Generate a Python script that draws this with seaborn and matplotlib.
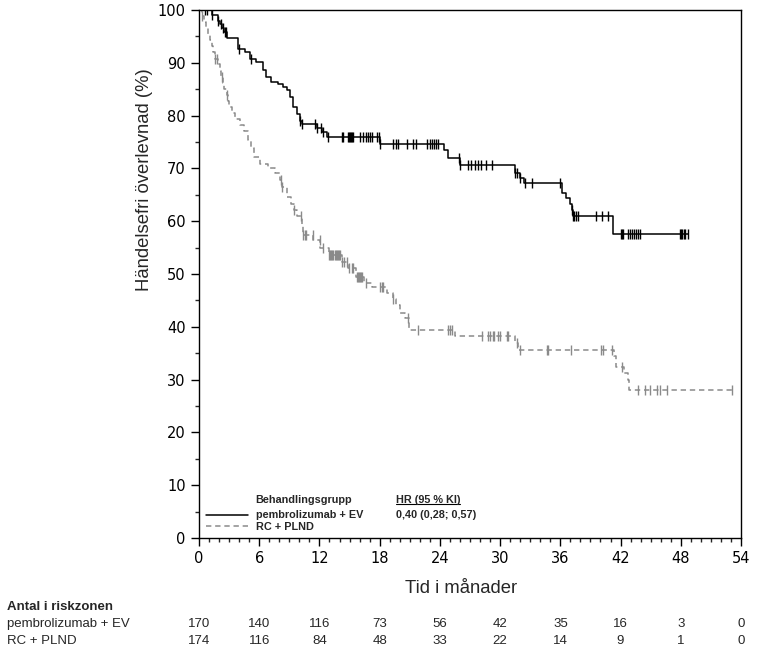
import numpy as np
import pandas as pd
import seaborn as sns
import matplotlib.pyplot as plt
from matplotlib.ticker import MultipleLocator
from matplotlib.transforms import blended_transform_factory

# pembrolizumab + EV: händelsetider (månader) och överlevnad (%) efter steget
pem_t = [1.3, 1.9, 2.1, 2.3, 2.5, 2.8, 3.9, 4.6, 5.1, 5.7, 6.4, 6.7, 7.2, 7.9, 8.4, 8.8,
         9.1, 9.4, 9.8, 10.1, 10.3, 11.8, 12.3, 12.8, 18.0, 24.4, 24.8, 26.0, 31.5, 32.0,
         32.4, 36.2, 36.6, 37.0, 37.2, 37.3, 41.2]
pem_s = [99.1, 98.0, 97.3, 96.5, 95.8, 94.7, 92.7, 92.1, 90.8, 90.2, 88.6, 87.4, 86.4, 85.9,
         85.4, 84.8, 83.6, 81.7, 80.3, 78.9, 78.4, 77.6, 76.8, 76.0, 74.7, 73.4, 72.0, 70.6,
         69.1, 68.2, 67.2, 65.3, 64.4, 63.3, 62.1, 61.0, 57.6]
pem_cens = [0.6, 0.8, 1.3, 1.9, 2.2, 2.4, 2.6, 2.7, 4.0, 5.2, 10.1, 10.3, 11.6, 11.8, 12.2,
            12.4, 12.9, 14.2, 14.3, 14.8, 14.9, 15.0, 15.1, 15.2, 15.3, 16.0, 16.3, 16.6,
            16.8, 17.0, 17.2, 17.7, 17.9, 18.0, 19.3, 19.6, 19.8, 20.7, 21.3, 21.6, 22.7,
            23.0, 23.2, 23.4, 23.6, 23.8, 25.9, 26.0, 26.8, 27.1, 27.5, 27.8, 28.1, 28.6,
            29.2, 31.5, 31.7, 32.0, 32.5, 33.2, 36.0, 37.2, 37.3, 37.4, 37.6, 37.8, 39.6,
            40.2, 40.7, 42.0, 42.1, 42.2, 42.7, 42.9, 43.1, 43.3, 43.5, 43.7, 43.9, 47.9,
            48.0, 48.1, 48.3, 48.4, 48.7]

# RC + PLND
rc_t = [0.3, 0.5, 0.7, 0.9, 1.1, 1.3, 1.4, 1.6, 1.9, 2.1, 2.2, 2.35, 2.5, 2.75, 2.85, 3.0,
        3.25, 3.6, 4.1, 4.5, 4.9, 5.2, 5.5, 6.1, 6.9, 7.6, 8.1, 8.3, 8.8, 9.2, 9.5, 9.8,
        10.3, 10.4, 11.4, 12.1, 13.0, 14.2, 14.8, 15.6, 16.4, 17.2, 18.7, 19.3, 19.6, 20.0,
        20.5, 20.9, 25.5, 31.5, 31.8, 41.3, 41.5, 42.3, 42.7, 42.8]
rc_s = [98.9, 97.7, 96.6, 95.4, 94.3, 93.1, 92.0, 90.8, 89.7, 88.5, 87.4, 86.2, 85.1, 83.9,
        82.8, 81.6, 80.5, 79.3, 78.2, 77.0, 75.3, 73.8, 72.2, 70.9, 70.0, 69.1, 67.8, 66.5,
        64.6, 63.3, 62.1, 60.9, 59.3, 57.4, 56.4, 54.9, 53.6, 52.3, 51.1, 49.5, 48.3, 47.6,
        46.4, 45.2, 44.1, 42.6, 41.7, 39.4, 38.3, 37.0, 35.7, 34.5, 32.4, 31.2, 29.9, 28.0]
rc_cens = [0.3, 1.6, 1.8, 2.3, 2.75, 8.2, 8.3, 9.5, 10.2, 10.4, 10.6, 10.7, 11.35, 12.05,
           12.35, 13.0, 13.1, 13.2, 13.3, 13.4, 13.5, 13.6, 13.7, 13.8, 13.9, 14.0, 14.2,
           14.4, 14.7, 14.9, 15.2, 15.3, 15.7, 15.8, 15.9, 16.0, 16.1, 16.2, 16.6, 18.0,
           18.2, 18.3, 19.3, 20.8, 21.8, 24.8, 25.0, 25.2, 28.2, 28.8, 29.0, 29.25, 29.4,
           29.8, 30.0, 30.65, 30.8, 31.7, 32.0, 34.7, 34.8, 37.1, 40.1, 40.3, 41.1, 42.1,
           43.75, 44.4, 44.9, 45.6, 45.9, 46.6, 53.1]

risk_times = [0, 6, 12, 18, 24, 30, 36, 42, 48, 54]
risk_pem = [170, 140, 116, 73, 56, 42, 35, 16, 3, 0]
risk_rc = [174, 116, 84, 48, 33, 22, 14, 9, 1, 0]

groups = ["pembrolizumab + EV", "RC + PLND"]
hr_text = "0,40 (0,28; 0,57)"

narrow = "Liberation Sans"


def curve(t, s, cens):
    tt = [0] + t + [max(cens)]
    ss = [100] + s + [s[-1]]
    return pd.DataFrame({"tid": tt, "surv": ss})


def censor_points(t, s, cens):
    idx = np.searchsorted(t, cens, side="right")
    return pd.DataFrame({"tid": cens, "surv": np.r_[100, s][idx]})


sns.set_style("ticks")
fig = plt.figure(figsize=(7.81, 6.69), dpi=100)
ax = fig.add_axes([199 / 781, 1 - 538 / 669, 542 / 781, 528 / 669])

pem_df = curve(pem_t, pem_s, pem_cens)
rc_df = curve(rc_t, rc_s, rc_cens)
sns.lineplot(data=pem_df, x="tid", y="surv", drawstyle="steps-post", estimator=None,
             color="black", lw=1.1, ax=ax)
sns.lineplot(data=rc_df, x="tid", y="surv", drawstyle="steps-post", estimator=None,
             color="#8a8a8a", lw=1.1, linestyle=(0, (3.5, 2.5)), ax=ax)
sns.scatterplot(data=censor_points(pem_t, pem_s, pem_cens), x="tid", y="surv", marker="|",
                s=60, color="black", linewidth=1.0, ax=ax, zorder=3)
sns.scatterplot(data=censor_points(rc_t, rc_s, rc_cens), x="tid", y="surv", marker="|",
                s=60, color="#8a8a8a", linewidth=1.0, ax=ax, zorder=3)

ax.set_xlim(0, 54)
ax.set_ylim(0, 100)
ax.xaxis.set_major_locator(MultipleLocator(6))
ax.xaxis.set_minor_locator(MultipleLocator(1))
ax.yaxis.set_major_locator(MultipleLocator(10))
ax.yaxis.set_minor_locator(MultipleLocator(5))
ax.tick_params(which="major", length=6, width=1, labelsize=10.5, colors="black")
ax.tick_params(which="minor", length=3, width=1)
for sp in ax.spines.values():
    sp.set_visible(True)
    sp.set_color("black")
    sp.set_linewidth(1)

ax.set_xlabel("Tid i månader", fontsize=13.3, family="Liberation Sans")
ax.set_ylabel("Händelsefri överlevnad (%)", fontsize=13.3, family="Liberation Sans")
ax.xaxis.set_label_coords(0.483, -0.08)
ax.yaxis.set_label_coords(-0.085, 0.678)

# förklaring
leg = ax.legend(handles=ax.lines[:2], labels=groups, loc="lower left",
                bbox_to_anchor=(0.012, 0.012), frameon=False, borderpad=0, borderaxespad=0,
                handlelength=3.9, handletextpad=0.75, labelspacing=0.12,
                prop=dict(family=narrow, weight="bold", size=7.8))
ax.text(0.103, 0.072, "Behandlingsgrupp", transform=ax.transAxes, va="center",
        family=narrow, weight="bold", fontsize=7.8)
hr_head = ax.text(0.363, 0.072, "HR (95 % KI)", transform=ax.transAxes, va="center",
                  family=narrow, weight="bold", fontsize=7.8)
ax.text(0.363, 0.0436, hr_text, transform=ax.transAxes, va="center",
        family=narrow, weight="bold", fontsize=7.8)
fig.canvas.draw()
bb = hr_head.get_window_extent().transformed(ax.transAxes.inverted())
ax.plot([bb.x0, bb.x1], [bb.y0 + 0.001, bb.y0 + 0.001], color="black", lw=0.8,
        transform=ax.transAxes, clip_on=False)

# antal i riskzonen
fig.text(7 / 781, 1 - 607 / 669, "Antal i riskzonen", family=narrow, weight="bold",
         fontsize=9.5, va="center")
row_y = [1 - 624 / 669, 1 - 641 / 669]
trans = blended_transform_factory(ax.transData, fig.transFigure)
for name, counts, yy in zip(groups, [risk_pem, risk_rc], row_y):
    fig.text(7 / 781, yy, name, family=narrow, fontsize=9.5, va="center")
    for tt, n in zip(risk_times, counts):
        ax.text(tt, yy, str(n), transform=trans, ha="center", va="center",
                family=narrow, fontsize=9.5, clip_on=False)

fig.savefig("out.png", dpi=100)
